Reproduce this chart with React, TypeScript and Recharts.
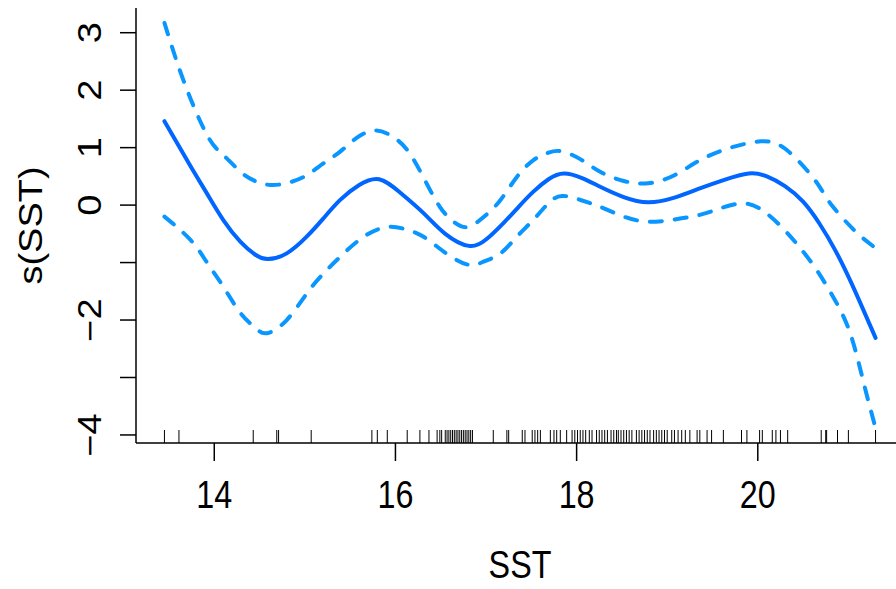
import { ComposedChart, Line, Scatter, XAxis, YAxis } from 'recharts';

// smooth term s(SST) with +/- 2 se bands
const FIT_X = [13.45, 13.74, 13.92, 14.1, 14.29, 14.45, 14.59, 14.8, 15.02, 15.2, 15.39, 15.6, 15.82, 16.05, 16.31, 16.55, 16.81, 17.0, 17.2, 17.36, 17.52, 17.69, 17.86, 18.06, 18.26, 18.52, 18.79, 19.08, 19.36, 19.63, 19.9, 20.1, 20.3, 20.5, 20.68, 20.86, 21.04, 21.2, 21.3];
const FIT_Y = [1.46, 0.67, 0.2, -0.26, -0.64, -0.86, -0.94, -0.84, -0.55, -0.24, 0.09, 0.35, 0.45, 0.22, -0.14, -0.5, -0.71, -0.6, -0.3, -0.03, 0.23, 0.45, 0.55, 0.47, 0.32, 0.14, 0.05, 0.13, 0.29, 0.44, 0.55, 0.5, 0.33, 0.06, -0.32, -0.8, -1.38, -1.95, -2.31];

const UPPER_X = [13.45, 13.66, 13.92, 14.1, 14.29, 14.45, 14.62, 14.82, 15.02, 15.2, 15.39, 15.58, 15.78, 15.96, 16.13, 16.31, 16.49, 16.65, 16.8, 16.98, 17.16, 17.34, 17.52, 17.67, 17.82, 18.04, 18.26, 18.52, 18.79, 19.08, 19.36, 19.7, 20.03, 20.18, 20.32, 20.54, 20.69, 20.83, 21.06, 21.18, 21.3];
const UPPER_Y = [3.17, 2.17, 1.22, 0.87, 0.58, 0.42, 0.35, 0.39, 0.52, 0.72, 0.93, 1.18, 1.3, 1.2, 0.96, 0.48, -0.03, -0.3, -0.38, -0.2, 0.09, 0.49, 0.78, 0.9, 0.94, 0.8, 0.58, 0.42, 0.38, 0.52, 0.78, 1.0, 1.11, 1.08, 0.96, 0.61, 0.3, -0.03, -0.43, -0.6, -0.75];

const LOWER_X = [13.45, 13.74, 13.92, 14.1, 14.29, 14.45, 14.58, 14.8, 15.02, 15.2, 15.39, 15.65, 15.91, 16.11, 16.31, 16.56, 16.81, 16.98, 17.16, 17.34, 17.52, 17.68, 17.84, 18.06, 18.26, 18.52, 18.79, 19.08, 19.36, 19.6, 19.84, 20.06, 20.28, 20.47, 20.65, 20.84, 21.02, 21.17, 21.3];
const LOWER_Y = [-0.2, -0.61, -1.0, -1.42, -1.88, -2.13, -2.23, -2.0, -1.54, -1.2, -0.9, -0.55, -0.38, -0.42, -0.55, -0.84, -1.04, -0.98, -0.84, -0.55, -0.26, 0.02, 0.16, 0.08, -0.03, -0.2, -0.29, -0.25, -0.17, -0.05, 0.03, -0.1, -0.41, -0.75, -1.13, -1.62, -2.23, -3.1, -3.88];

// observed SST values (rug)
const RUG = [
  13.45, 13.61, 14.43, 14.69, 14.71, 15.07, 15.74, 15.8, 15.91, 16.13, 16.27, 16.37,
  16.46, 16.49, 16.51, 16.55, 16.57, 16.59, 16.61, 16.63, 16.65, 16.67, 16.69, 16.71, 16.73,
  16.75, 16.77, 16.79, 16.81, 16.83, 16.85, 17.08, 17.23, 17.25, 17.4, 17.43, 17.51, 17.54,
  17.57, 17.6, 17.71, 17.75, 17.78, 17.82, 17.89, 17.95, 17.98, 18.01, 18.04, 18.07, 18.1,
  18.14, 18.17, 18.22, 18.25, 18.28, 18.31, 18.34, 18.38, 18.41, 18.44, 18.46, 18.49, 18.52,
  18.55, 18.58, 18.61, 18.66, 18.69, 18.72, 18.75, 18.78, 18.81, 18.85, 18.88, 18.91, 18.94,
  18.97, 19.0, 19.05, 19.08, 19.12, 19.16, 19.2, 19.25, 19.33, 19.36, 19.44, 19.49, 19.62,
  19.82, 19.88, 20.02, 20.05, 20.16, 20.2, 20.25, 20.33, 20.7, 20.75, 20.76, 20.88, 21.0, 21.3,
];

const X_TICKS = [14, 16, 18, 20];
const Y_TICKS = [-4, -3, -2, -1, 0, 1, 2, 3];
const Y_LABELED = [3, 2, 1, 0, -2, -4];

const X_DOMAIN: [number, number] = [13.136, 21.614];
const Y_DOMAIN: [number, number] = [-4.14, 3.43];

const FONT = '"Liberation Sans", Arial, sans-serif';
const SQUEEZE = 0.85;

const toPoints = (xs: number[], ys: number[]) => xs.map((x, i) => ({ x, y: ys[i] }));
const fit = toPoints(FIT_X, FIT_Y);
const upper = toPoints(UPPER_X, UPPER_Y);
const lower = toPoints(LOWER_X, LOWER_Y);
const rug = RUG.map((x) => ({ x, y: Y_DOMAIN[0] }));

const XTick = ({ x, y, payload }: any) => (
  <text
    transform={`translate(${x},${y + 45}) scale(${SQUEEZE},1)`}
    textAnchor="middle"
    fontSize={38}
    fontFamily={FONT}
    fill="#000"
  >
    {payload.value}
  </text>
);

const YTick = ({ x, y, payload }: any) => {
  if (!Y_LABELED.includes(payload.value)) return <g />;
  const label = payload.value < 0 ? `\u2212${Math.abs(payload.value)}` : String(payload.value);
  return (
    <text
      transform={`translate(${x - 17},${y}) scale(${SQUEEZE},1) rotate(-90)`}
      textAnchor="middle"
      fontSize={38}
      fontFamily={FONT}
      fill="#000"
    >
      {label}
    </text>
  );
};

const XTitle = ({ viewBox }: any) => (
  <text
    transform={`translate(${viewBox.x + viewBox.width / 2},${viewBox.y + 135}) scale(${SQUEEZE},1)`}
    textAnchor="middle"
    fontSize={38}
    fontFamily={FONT}
    fill="#000"
  >
    SST
  </text>
);

const YTitle = ({ viewBox }: any) => (
  <text
    transform={`translate(42,${viewBox.y + viewBox.height / 2}) scale(${SQUEEZE},1) rotate(-90)`}
    textAnchor="middle"
    fontSize={38}
    fontFamily={FONT}
    fill="#000"
  >
    s(SST)
  </text>
);

const RugMark = ({ cx, cy }: any) => (
  <line x1={cx} x2={cx} y1={cy} y2={cy - 13} stroke="#000" strokeWidth={1} />
);

export default function App() {
  return (
    <div style={{ position: 'absolute', left: 0, top: 0, width: 896, height: 589, overflow: 'hidden', background: '#fff' }}>
      <ComposedChart width={910} height={589} margin={{ top: 8, right: 6, bottom: 0, left: 0 }}>
        <XAxis
          xAxisId="top"
          orientation="top"
          type="number"
          domain={X_DOMAIN}
          allowDataOverflow
          height={0}
          tick={false}
          tickLine={false}
          axisLine={{ stroke: '#000', strokeWidth: 1.5 }}
        />
        <XAxis
          dataKey="x"
          type="number"
          domain={X_DOMAIN}
          allowDataOverflow
          ticks={X_TICKS}
          height={146}
          tickSize={18}
          tick={<XTick />}
          tickLine={{ stroke: '#000', strokeWidth: 1.5 }}
          axisLine={{ stroke: '#000', strokeWidth: 1.5 }}
          label={{ content: <XTitle /> }}
        />
        <YAxis
          dataKey="y"
          type="number"
          domain={Y_DOMAIN}
          allowDataOverflow
          ticks={Y_TICKS}
          width={136}
          tickSize={16}
          tick={<YTick />}
          tickLine={{ stroke: '#000', strokeWidth: 1.5 }}
          axisLine={{ stroke: '#000', strokeWidth: 1.5 }}
          label={{ content: <YTitle /> }}
        />
        <Scatter data={rug} dataKey="y" shape={<RugMark />} isAnimationActive={false} />
        <Line
          data={upper}
          dataKey="y"
          type="natural"
          stroke="#0a96ff"
          strokeWidth={4}
          strokeDasharray="12 13"
          strokeLinecap="round"
          dot={false}
          isAnimationActive={false}
        />
        <Line
          data={lower}
          dataKey="y"
          type="natural"
          stroke="#0a96ff"
          strokeWidth={4}
          strokeDasharray="12 13"
          strokeLinecap="round"
          dot={false}
          isAnimationActive={false}
        />
        <Line
          data={fit}
          dataKey="y"
          type="natural"
          stroke="#0066ff"
          strokeWidth={4}
          strokeLinecap="round"
          dot={false}
          isAnimationActive={false}
        />
      </ComposedChart>
    </div>
  );
}
